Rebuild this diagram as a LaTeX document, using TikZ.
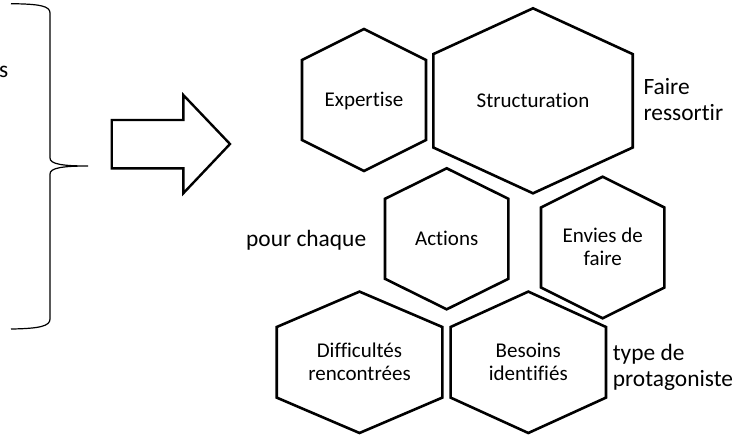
\documentclass[tikz,border=0pt]{standalone}
\usepackage{fontspec}
\setmainfont{Carlito}[Ligatures={NoCommon}]
\usetikzlibrary{calc}

\tikzset{
  cell/.style={draw=black, line width=2.6pt, line join=miter},
  celltext/.style={font=\fontsize{21}{23.5}\selectfont, align=center, anchor=base, inner sep=0pt},
  sidetext/.style={font=\fontsize{23.4}{26.7}\selectfont, align=left, inner sep=0pt},
  bigarrow/.style={draw=black, line width=2.4pt, line join=miter, fill=white},
  brace/.style={draw=black, line width=1.2pt},
}

% hexagonal cell: name, centre x, centre y, half width, half height, half of a vertical side
\newcommand{\hexcell}[6]{%
  \coordinate (#1) at (#2,#3);
  \draw[cell] ($(#1)+(-#4,-#6)$) -- ($(#1)+(0,-#5)$) -- ($(#1)+(#4,-#6)$)
    -- ($(#1)+(#4,#6)$) -- ($(#1)+(0,#5)$) -- ($(#1)+(-#4,#6)$) -- cycle;}

\begin{document}
\begin{tikzpicture}[x=1pt, y=-1pt]
\useasboundingbox (0,0) rectangle (747,434);

% left brace
\draw[brace] (11,3.7) .. controls (40,4) and (50,6) .. (50,13)
  -- (50,158) .. controls (50,164) and (62,166) .. (88,166)
  .. controls (62,166) and (50,168) .. (50,174)
  -- (50,319) .. controls (50,326) and (40,328.6) .. (11,329);
\node[sidetext, anchor=base east] (frag) at (8.6,77) {s};

% block arrow
\draw[bigarrow] (111.7,120) -- (183.3,120) -- (183.3,95) -- (230,144)
  -- (183.3,193.3) -- (183.3,168.3) -- (111.7,168.3) -- cycle;

% hexagonal cells
\hexcell{hexp}{364}{100}{62}{71}{40}
\hexcell{hstr}{533}{100.8}{99.7}{92.5}{46.7}
\hexcell{hact}{446.7}{238.8}{61.7}{70.5}{40}
\hexcell{henv}{602.7}{247.5}{61.7}{70.8}{40}
\hexcell{hdif}{359.5}{362.3}{82.8}{70.7}{35.3}
\hexcell{hbes}{528.3}{362.3}{77.7}{70.7}{35.3}

% cell labels (base anchor sits on the last line)
\node[celltext] (expertise) at ($(hexp)+(0,6.2)$) {Expertise};
\node[celltext] (structuration) at ($(hstr)+(0,6.5)$) {Structuration};
\node[celltext] (actions) at ($(hact)+(0,6.2)$) {Actions};
\node[celltext] (envies) at ($(henv)+(0,18.4)$) {Envies de\\faire};
\node[celltext] (difficultes) at ($(hdif)+(0,18.4)$) {Difficultés\\rencontrées};
\node[celltext] (besoins) at ($(hbes)+(0,18.4)$) {Besoins\\identifiés};

% side notes
\node[sidetext, anchor=base west] (faire) at (643.3,120.7) {Faire\\ressortir};
\node[sidetext, anchor=base west] (pour) at (246,246.7) {pour chaque};
\node[sidetext, anchor=base west] (type) at (612.7,386.7) {type de\\protagoniste};
\end{tikzpicture}
\end{document}
